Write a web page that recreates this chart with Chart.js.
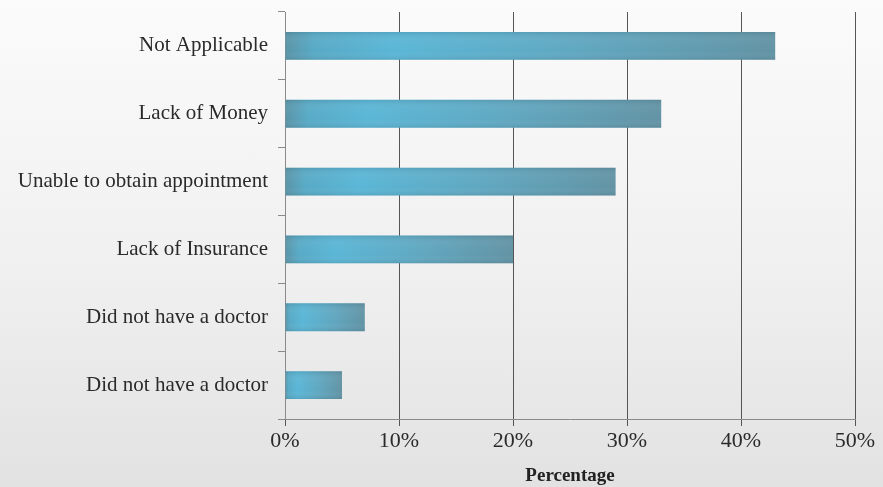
<!DOCTYPE html>
<html>
<head>
<meta charset="utf-8">
<script src="https://cdn.jsdelivr.net/npm/chart.js@4.4.0/dist/chart.umd.min.js"></script>
<style>
  html, body { margin: 0; padding: 0; }
  body {
    width: 883px; height: 487px; overflow: hidden;
    background: linear-gradient(to bottom, #fbfbfb 0%, #f0f0f0 55%, #e2e2e2 100%);
  }
  #wrap { position: relative; width: 883px; height: 487px; }
</style>
</head>
<body>
<div id="wrap"><canvas id="reasonsChart"></canvas></div>
<script>
const categories = ['Not Applicable', 'Lack of Money', 'Unable to obtain appointment', 'Lack of Insurance', 'Did not have a doctor', 'Did not have a doctor'];
const percentValues = [43, 33, 29, 20, 7, 5];
const tickValues = [0, 10, 20, 30, 40, 50];

// horizontal gradient across each bar, light near the left, darker teal at the end
function barGradient(context) {
    const chart = context.chart;
    const xScale = chart.scales.x;
    if (!chart.chartArea || !xScale || context.dataIndex === undefined) return '#5ab0cf';
    const x0 = xScale.getPixelForValue(0);
    const x1 = xScale.getPixelForValue(percentValues[context.dataIndex]);
    const g = chart.ctx.createLinearGradient(x0, 0, x1, 0);
    g.addColorStop(0, '#5a93a6');
    g.addColorStop(0.06, '#58aac6');
    g.addColorStop(0.22, '#5ab6d6');
    g.addColorStop(0.6, '#60a7c0');
    g.addColorStop(1, '#6293a4');
    return g;
}

// slight darkening at top and bottom edge of the bars
const barShade = {
    id: 'barShade',
    afterDatasetsDraw(chart) {
        const ctx = chart.ctx;
        chart.getDatasetMeta(0).data.forEach(bar => {
            const h = bar.height;
            const top = bar.y - h / 2;
            const g = ctx.createLinearGradient(0, top, 0, top + h);
            g.addColorStop(0, 'rgba(40,80,95,0.15)');
            g.addColorStop(0.3, 'rgba(255,255,255,0.04)');
            g.addColorStop(0.7, 'rgba(255,255,255,0)');
            g.addColorStop(1, 'rgba(40,80,95,0.15)');
            ctx.save();
            ctx.fillStyle = g;
            ctx.fillRect(bar.base, top, bar.x - bar.base, h);
            ctx.restore();
        });
    }
};

const serif = "'Liberation Serif', 'Times New Roman', serif";

new Chart(document.getElementById('reasonsChart'), {
    type: 'bar',
    data: {
        labels: categories,
        datasets: [{
            data: percentValues,
            backgroundColor: barGradient,
            borderWidth: 0,
            barPercentage: 0.82,
            categoryPercentage: 0.5
        }]
    },
    options: {
        indexAxis: 'y',
        responsive: true,
        maintainAspectRatio: false,
        animation: false,
        layout: { padding: { top: 12, right: 28, bottom: 0, left: 0 } },
        scales: {
            x: {
                min: 0,
                max: 50,
                afterBuildTicks: axis => { axis.ticks = tickValues.map(v => ({ value: v })); },
                afterFit: axis => { axis.height = 68; axis.paddingRight = 0; },
                grid: { color: '#555', lineWidth: 1, tickLength: 7, drawTicks: true },
                border: { color: '#8a8a8a', width: 1 },
                ticks: {
                    color: '#2a2a2a',
                    font: { family: serif, size: 22 },
                    padding: 2,
                    callback: v => v + '%'
                },
                title: {
                    display: true,
                    text: 'Percentage',
                    color: '#222',
                    font: { family: serif, size: 19, weight: 'bold' },
                    padding: { top: 2, bottom: 0 }
                }
            },
            y: {
                afterFit: axis => { axis.width = 285; axis.paddingTop = 0; axis.paddingBottom = 0; },
                grid: { drawOnChartArea: false, offset: true, color: '#8a8a8a', tickLength: 7 },
                border: { color: '#8a8a8a', width: 1 },
                ticks: {
                    color: '#2a2a2a',
                    font: { family: serif, size: 21 },
                    padding: 10
                }
            }
        },
        plugins: {
            legend: { display: false },
            tooltip: { enabled: false }
        }
    },
    plugins: [barShade]
});
</script>
</body>
</html>
